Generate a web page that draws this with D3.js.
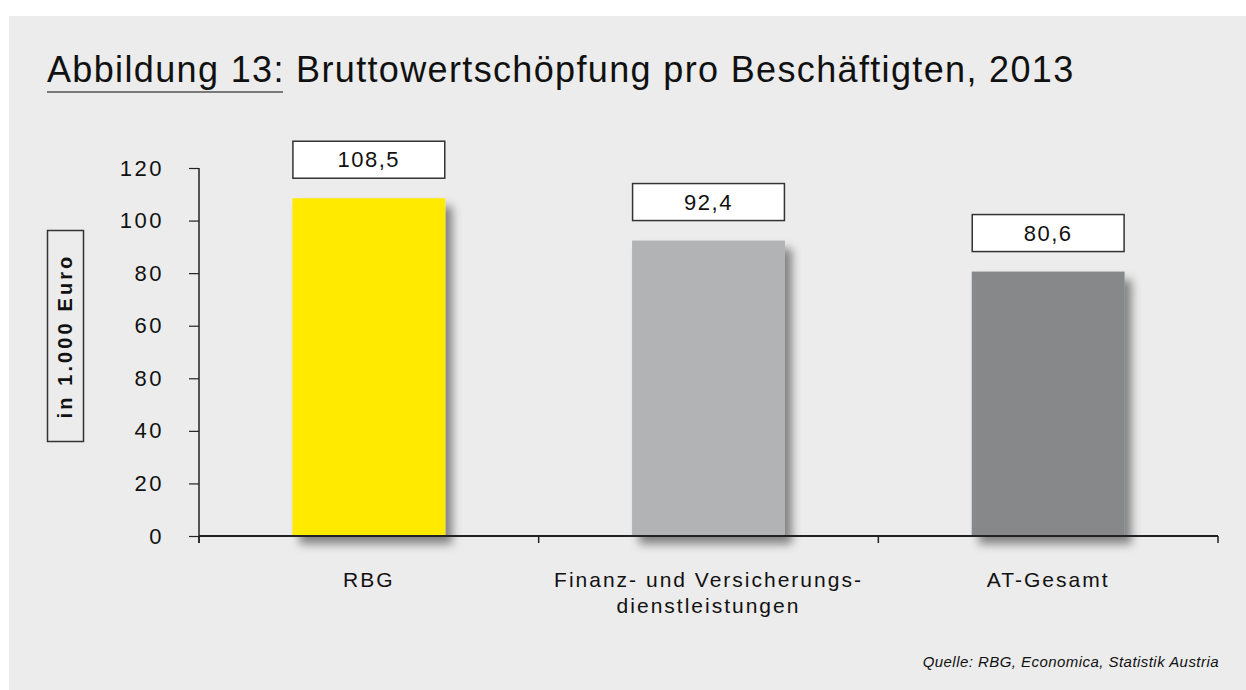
<!DOCTYPE html>
<html>
<head>
<meta charset="utf-8">
<script src="https://cdn.jsdelivr.net/npm/d3@7/dist/d3.min.js"></script>
<style>
  html, body { margin: 0; padding: 0; background: #ffffff; }
  svg { display: block; }
  text { font-family: "Liberation Sans", Arial, Helvetica, sans-serif; fill: #111; }
</style>
</head>
<body>
<svg id="chart" width="1246" height="690"></svg>
<script>
// ---- data ----
const categories = ["RBG", "Finanz- und Versicherungs-\ndienstleistungen", "AT-Gesamt"];
const values = [108.5, 92.4, 80.6];
const valueLabels = ["108,5", "92,4", "80,6"];
const barColors = ["#ffea00", "#b2b3b5", "#87888a"];
const tickValues = [-20, 0, 20, 40, 60, 80, 100, 120];
const tickLabels = ["0", "20", "40", "80", "60", "80", "100", "120"];
const titleText = "Abbildung 13: Bruttowertschöpfung pro Beschäftigten, 2013";
const yTitle = "in 1.000 Euro";
const sourceText = "Quelle: RBG, Economica, Statistik Austria";

const svg = d3.select("#chart");
const defs = svg.append("defs");
const f = defs.append("filter").attr("id", "shadow")
  .attr("x", "-20%").attr("y", "-20%").attr("width", "150%").attr("height", "150%");
f.append("feDropShadow").attr("dx", 7).attr("dy", 8).attr("stdDeviation", 5)
  .attr("flood-color", "#000").attr("flood-opacity", 0.45);

svg.append("rect").attr("x", 9).attr("y", 16).attr("width", 1237).attr("height", 674)
  .attr("fill", "#ebeceb");

// title
svg.append("text").attr("x", 47).attr("y", 82)
  .style("font-size", "36px").style("letter-spacing", "1.35px")
  .text(titleText);
svg.append("line").attr("x1", 47).attr("x2", 283).attr("y1", 92).attr("y2", 92)
  .attr("stroke", "#555").attr("stroke-width", 1.5);

const x0 = 199, x1 = 1218, yBase = 536, yTop = 168;
const y = d3.scaleLinear().domain([-20, 120]).range([yBase, yTop]);
const x = d3.scaleBand().domain(categories).range([x0, x1])
  .paddingInner(0.55).paddingOuter(0.275);
const xb = d3.scaleBand().domain(categories).range([x0, x1]).padding(0);

// bars
svg.append("g").selectAll("rect").data(values).join("rect")
  .attr("x", (d, i) => x(categories[i]))
  .attr("width", x.bandwidth())
  .attr("y", d => y(d))
  .attr("height", d => y(-20) - y(d))
  .attr("fill", (d, i) => barColors[i])
  .attr("filter", "url(#shadow)");

// value boxes
const lab = svg.append("g").selectAll("g").data(values).join("g");
lab.append("rect")
  .attr("x", (d, i) => x(categories[i]) + 0.5)
  .attr("width", x.bandwidth() - 1)
  .attr("y", d => y(d) - 57)
  .attr("height", 37)
  .attr("fill", "#fff").attr("stroke", "#333").attr("stroke-width", 1.5);
lab.append("text")
  .attr("x", (d, i) => x(categories[i]) + x.bandwidth() / 2)
  .attr("y", d => y(d) - 31)
  .attr("text-anchor", "middle")
  .style("font-size", "22px").style("letter-spacing", "1.5px")
  .text((d, i) => valueLabels[i]);

// y axis
const yAxis = d3.axisLeft(y).tickValues(tickValues).tickSize(10).tickPadding(25)
  .tickFormat((d, i) => tickLabels[i]);
const gy = svg.append("g").attr("transform", `translate(${x0},0)`).call(yAxis);
gy.select(".domain").remove();
gy.selectAll(".tick line").attr("stroke", "#222").attr("stroke-width", 1.2);
gy.selectAll(".tick text").style("font-size", "22px").style("font-family", "Liberation Sans, Arial, sans-serif")
  .style("letter-spacing", "2.5px").attr("fill", "#111");
svg.append("line").attr("x1", x0).attr("x2", x0).attr("y1", yTop).attr("y2", yBase + 7)
  .attr("stroke", "#222").attr("stroke-width", 1.5);

// x axis
svg.append("line").attr("x1", x0).attr("x2", x1).attr("y1", yBase).attr("y2", yBase)
  .attr("stroke", "#222").attr("stroke-width", 1.8);
const bounds = categories.map(c => xb(c)).concat([x1]);
svg.append("g").selectAll("line").data(bounds).join("line")
  .attr("x1", d => d).attr("x2", d => d).attr("y1", yBase).attr("y2", yBase + 7)
  .attr("stroke", "#222").attr("stroke-width", 1.5);

// category labels
const cl = svg.append("g").selectAll("text").data(categories).join("text")
  .attr("text-anchor", "middle")
  .attr("transform", d => `translate(${xb(d) + xb.bandwidth() / 2},587)`)
  .style("font-size", "21px").style("letter-spacing", "2px");
cl.each(function (d) {
  const t = d3.select(this);
  d.split("\n").forEach((line, i) => {
    t.append("tspan").attr("x", 0).attr("dy", i === 0 ? 0 : 26).text(line);
  });
});

// y title box
svg.append("rect").attr("x", 47.5).attr("y", 230.5).attr("width", 36).attr("height", 211)
  .attr("fill", "none").attr("stroke", "#333").attr("stroke-width", 1.5);
svg.append("text").attr("transform", "translate(72,336) rotate(-90)")
  .attr("text-anchor", "middle")
  .style("font-size", "20px").style("font-weight", "bold").style("letter-spacing", "3.1px")
  .text(yTitle);

// source
svg.append("text").attr("x", 1219).attr("y", 667).attr("text-anchor", "end")
  .style("font-size", "15px").style("font-style", "italic").style("letter-spacing", "0.45px")
  .attr("fill", "#333")
  .text(sourceText);
</script>
</body>
</html>
